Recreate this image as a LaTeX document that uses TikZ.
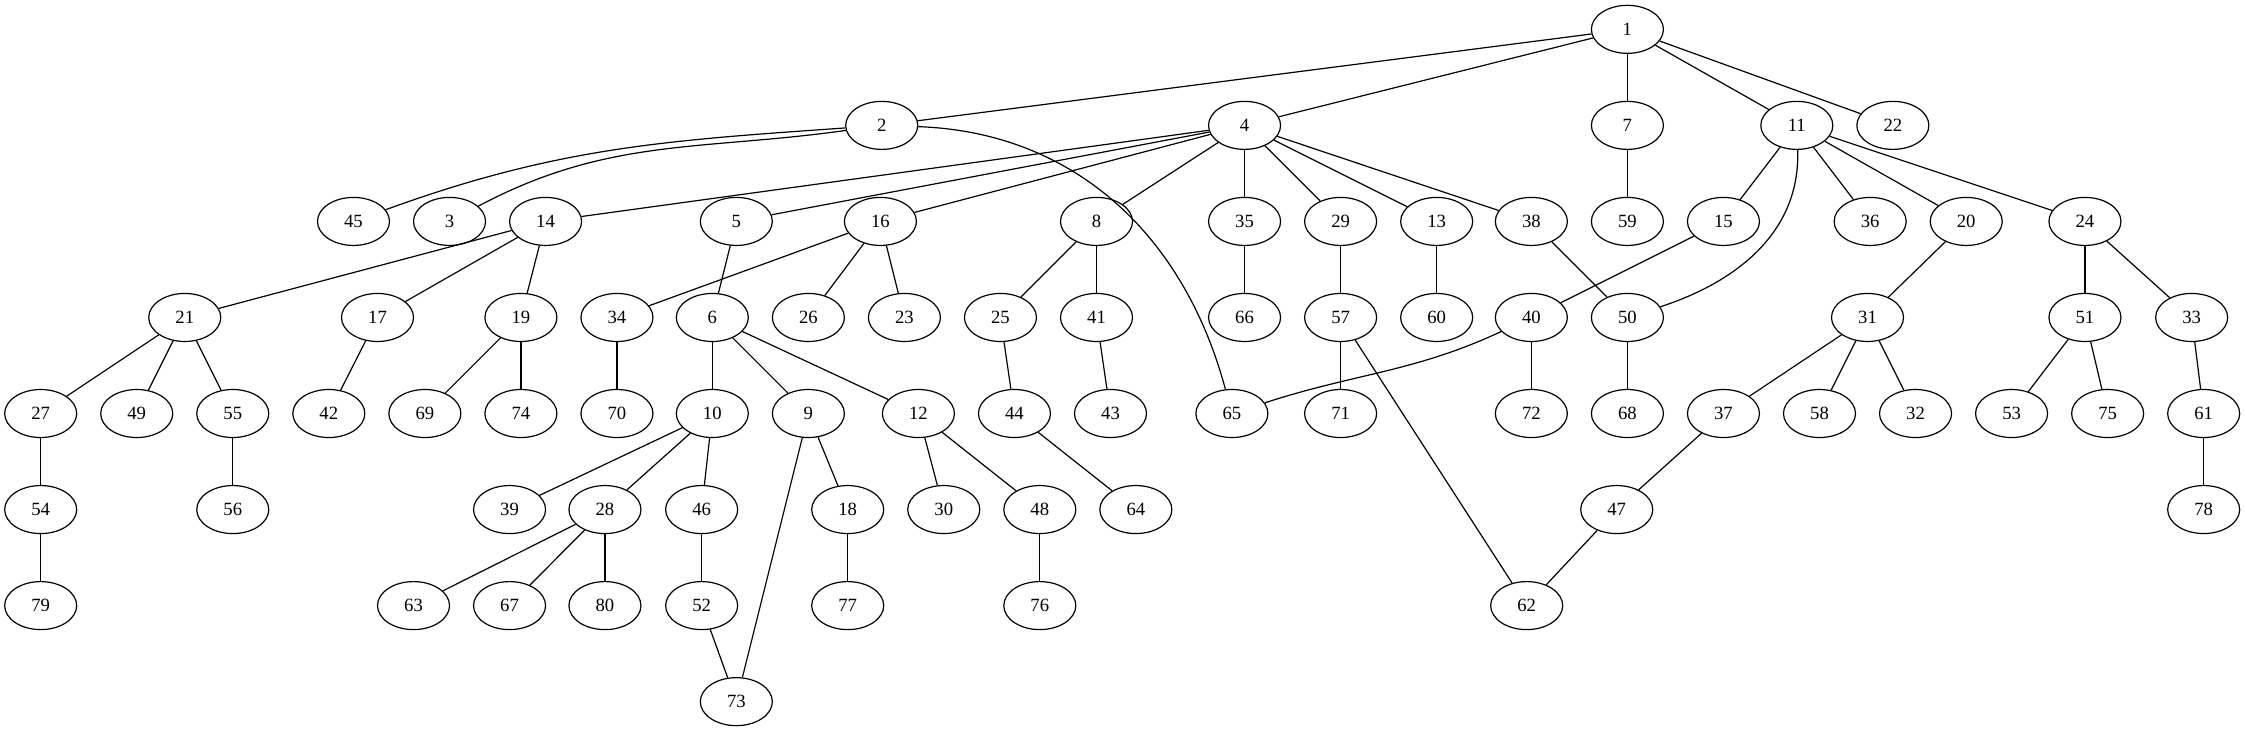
\documentclass[tikz,border=0pt]{standalone}
\usepackage{fontspec}
\setmainfont{Liberation Serif}
\usetikzlibrary{shapes.geometric}

\tikzset{
  vtx/.style={draw, ellipse, line width=0.9pt, minimum width=54pt, minimum height=36pt,
    inner sep=0pt, font=\fontsize{14}{16}\selectfont},
  edge/.style={line width=0.9pt}
}

\begin{document}
\begin{tikzpicture}[x=1pt, y=1pt]
  \useasboundingbox (0,0) rectangle (1683,-548);
  % vertices: label / x / rank
  \foreach \n/\x/\r in {
      1/1220/0,
      2/661/1, 4/933/1, 7/1220/1, 11/1347/1, 22/1419/1,
      45/265/2, 3/337/2, 14/409/2, 5/552/2, 16/660/2, 8/822/2, 35/933/2, 29/1005/2,
      13/1077/2, 38/1148/2, 59/1220/2, 15/1292/2, 36/1402/2, 20/1474/2, 24/1563/2,
      21/138.5/3, 17/283/3, 19/390.5/3, 34/462.5/3, 6/534/3, 26/606/3, 23/678/3,
      25/750/3, 41/822/3, 66/933/3, 57/1005/3, 60/1077/3, 40/1148/3, 50/1220/3,
      31/1400/3, 51/1563/3, 33/1643/3,
      27/30.5/4, 49/102.5/4, 55/174.5/4, 42/246.5/4, 69/318.5/4, 74/390.5/4,
      70/462.5/4, 10/534/4, 9/606/4, 12/688.5/4, 44/760.5/4, 43/832.5/4, 65/923.5/4,
      71/1005/4, 72/1148/4, 68/1220/4, 37/1292/4, 58/1364/4, 32/1436/4, 53/1508/4,
      75/1580/4, 61/1652/4,
      54/30.5/5, 56/174.5/5, 39/382/5, 28/453.5/5, 46/526/5, 18/635.5/5, 30/707.5/5,
      48/779.5/5, 64/851.5/5, 47/1212/5, 78/1652/5,
      79/30.5/6, 63/310/6, 67/382/6, 80/453.5/6, 52/526/6, 77/635.5/6, 76/779.5/6,
      62/1144.5/6,
      73/552/7}
    \node[vtx] (n\n) at (\x, {-22-72*\r}) {\n};

  % straight edges
  \foreach \a/\b in {1/2, 1/4, 1/7, 1/11, 1/22,
      4/14, 4/5, 4/16, 4/8, 4/35, 4/29, 4/13, 4/38,
      7/59, 11/15, 11/36, 11/20, 11/24,
      14/21, 14/17, 14/19, 5/6, 16/34, 16/26, 16/23, 8/25, 8/41,
      35/66, 29/57, 13/60, 38/50, 15/40, 20/31, 24/51, 24/33,
      21/27, 21/49, 21/55, 17/42, 19/69, 19/74, 34/70,
      6/10, 6/9, 6/12, 25/44, 41/43, 57/71, 57/62, 40/72, 50/68,
      31/37, 31/58, 31/32, 51/53, 51/75, 33/61,
      27/54, 55/56, 10/39, 10/28, 10/46, 9/18, 9/73, 12/30, 12/48,
      44/64, 37/47, 61/78, 54/79, 28/63, 28/67, 28/80, 46/52,
      18/77, 48/76, 47/62, 52/73}
    \draw[edge] (n\a) -- (n\b);

  % curved edges
  \draw[edge] (n2) to[out=184, in=20] (n45);
  \draw[edge] (n2) to[out=188, in=28] (n3);
  \draw[edge] (n2) to[out=-2, in=105] (n65);
  \draw[edge] (n11) to[out=-88, in=18] (n50);
  \draw[edge] (n40) to[out=-155, in=18] (n65);
\end{tikzpicture}
\end{document}
